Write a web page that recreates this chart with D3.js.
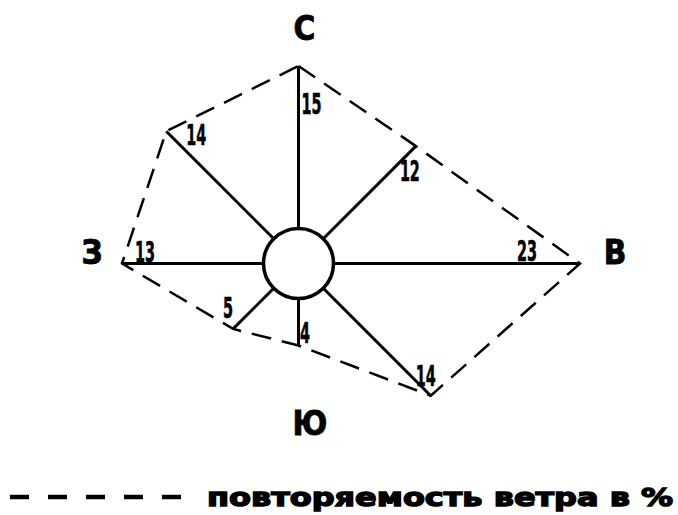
<!DOCTYPE html>
<html>
<head>
<meta charset="utf-8">
<script src="https://cdn.jsdelivr.net/npm/d3@7"></script>
<style>
  body { margin: 0; background: #fff; }
  svg { display: block; }
</style>
</head>
<body>
<svg id="canvas"></svg>
<script>
// wind rose data
const directions = ["С", "СВ", "В", "ЮВ", "Ю", "ЮЗ", "З", "СЗ"];
const angles = [0, 45, 90, 135, 180, 225, 270, 315];
const frequency = [15, 12, 23, 14, 4, 5, 13, 14];
const compassLabels = ["С", "В", "Ю", "З"];
const legendText = "повторяемость ветра в %";

const width = 678;
const height = 515;
const cx = 298.5;
const cy = 263.5;
const hubRadius = 35;

// label nudges from the end of each ray (start x, baseline y)
const labelNudge = {
  "С": [3, 48], "СВ": [-16, 35], "В": [-63, -2.5], "ЮВ": [-15, -10],
  "Ю": [1.5, -2.5], "ЮЗ": [-10, -11], "З": [13, -1.5], "СЗ": [20, 14]
};
// compass letters relative to centre
const compassPos = {
  "С": [6, -223.5], "В": [316.5, 0], "Ю": [11.5, 171], "З": [-206.5, 0]
};

let canvas = d3.select("#canvas").attr("width", width).attr("height", height);

let r = d3.scaleLinear().domain([0, 23]).range([40, 281.5]);

let points = directions.map((d, i) => {
  let a = angles[i] * Math.PI / 180;
  let len = r(frequency[i]);
  return {
    name: d,
    value: frequency[i],
    a: a,
    x: cx + Math.sin(a) * len,
    y: cy - Math.cos(a) * len
  };
});

// dashed envelope
canvas.append("path")
  .attr("d", d3.line().x((p) => p.x).y((p) => p.y).curve(d3.curveLinearClosed)(points))
  .attr("fill", "none")
  .attr("stroke", "#000")
  .attr("stroke-width", 2.5)
  .attr("stroke-dasharray", "20,11");

// rays
canvas.selectAll(".ray")
  .data(points)
  .enter()
  .append("line")
  .attr("class", "ray")
  .attr("x1", (p) => cx + Math.sin(p.a) * hubRadius)
  .attr("y1", (p) => cy - Math.cos(p.a) * hubRadius)
  .attr("x2", (p) => p.x)
  .attr("y2", (p) => p.y)
  .attr("stroke", "#000")
  .attr("stroke-width", 3);

canvas.append("circle")
  .attr("cx", cx)
  .attr("cy", cy)
  .attr("r", hubRadius)
  .attr("fill", "#fff")
  .attr("stroke", "#000")
  .attr("stroke-width", 3.5);

// values, narrow and tall like the drafting font
canvas.selectAll(".val")
  .data(points)
  .enter()
  .append("text")
  .attr("class", "val")
  .attr("x", (p) => p.x + labelNudge[p.name][0])
  .attr("y", (p) => p.y + labelNudge[p.name][1])
  .attr("font-family", "'DejaVu Sans Condensed', 'DejaVu Sans', sans-serif")
  .attr("font-weight", "bold")
  .attr("font-size", 28)
  .attr("stroke", "#000")
  .attr("stroke-width", 0.6)
  .attr("textLength", (p) => String(p.value).length * 10)
  .attr("lengthAdjust", "spacingAndGlyphs")
  .text((p) => p.value);

// compass letters
canvas.selectAll(".compass")
  .data(compassLabels)
  .enter()
  .append("text")
  .attr("class", "compass")
  .attr("x", (d) => cx + compassPos[d][0])
  .attr("y", (d) => cy + compassPos[d][1])
  .attr("text-anchor", "middle")
  .attr("font-family", "'DejaVu Sans Condensed', 'DejaVu Sans', sans-serif")
  .attr("font-weight", "bold")
  .attr("font-size", 33)
  .attr("stroke", "#000")
  .attr("stroke-width", 0.8)
  .text((d) => d);

// legend
let legend = canvas.append("g");
legend.append("line")
  .attr("x1", 10)
  .attr("x2", 182)
  .attr("y1", 497)
  .attr("y2", 497)
  .attr("stroke", "#000")
  .attr("stroke-width", 4.5)
  .attr("stroke-dasharray", "19,19");

legend.append("text")
  .attr("x", 207)
  .attr("y", 506)
  .attr("font-family", "'DejaVu Sans', sans-serif")
  .attr("font-weight", "bold")
  .attr("font-size", 25)
  .attr("stroke", "#000")
  .attr("stroke-width", 1.4)
  .attr("textLength", 466)
  .attr("lengthAdjust", "spacingAndGlyphs")
  .text(legendText);
</script>
</body>
</html>
